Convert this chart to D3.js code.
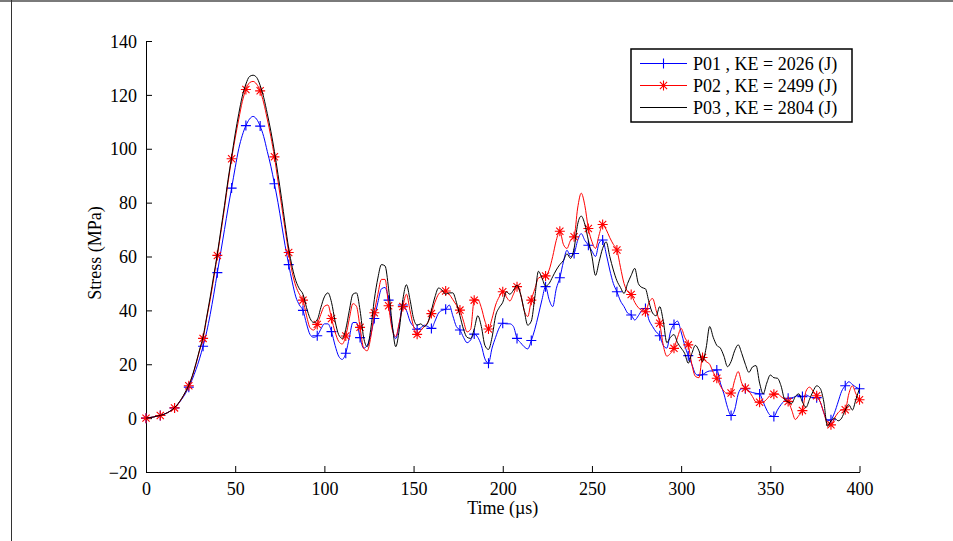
<!DOCTYPE html>
<html>
<head>
<meta charset="utf-8">
<script src="https://cdn.jsdelivr.net/npm/d3@7"></script>
<style>
  html, body { margin: 0; padding: 0; background: #fff; }
  svg text { font-family: "Liberation Serif", "Times New Roman", serif; fill: #000; }
</style>
</head>
<body>
<div id="chart"></div>
<script>
"use strict";

// sample step of the traces is 2 us, markers every 8 us
const timeStep = 2;
const markerEvery = 4;

const p01 = [
  0, 0.2, 0.4, 0.7, 1, 1.4, 2, 2.8, 3.8, 5.2,
  7, 9, 11.5, 14.5, 18, 22, 26.7, 32, 38.5, 46,
  54, 62, 70, 78, 85.4, 93, 100, 105, 108.6, 111,
  112, 111, 108.4, 104.5, 99, 93.5, 87, 80, 72, 64,
  57, 50.5, 45, 42, 40, 35, 31, 30, 30.6, 33,
  35, 35, 32.1, 27, 23, 21.8, 24.1, 30, 35.5, 35.5,
  29.9, 26, 27, 31, 37, 43, 48, 48.5, 43.8, 34,
  29.5, 35, 42, 40, 36, 34, 33, 33.5, 34.5, 34,
  33.3, 36, 39, 40, 40.4, 42, 38, 34, 32.7, 30,
  28, 29, 31.2, 30, 27, 22, 20.4, 26, 30, 33.5,
  35.2, 35, 35, 34, 29.6, 28, 26.5, 25.7, 28.8, 33,
  38.3, 44, 48.8, 44, 41.4, 48, 52.1, 58, 62.3, 60,
  61.1, 66, 68.5, 66, 64.2, 62, 60, 65, 66.1, 61,
  55, 50, 46.9, 43.5, 41.4, 39, 38.3, 36.4, 38, 40,
  40.7, 36.4, 34, 32, 30.6, 27, 26, 32, 34.8, 36,
  32, 27, 23.2, 20, 16.5, 15.8, 16.1, 17, 17.5, 17.5,
  17.9, 13, 9, 4, 1, 3, 9, 11, 10.9, 10,
  9.5, 9.2, 9, 6, 3, 1, 0.6, 3, 5, 6.5,
  7.4, 7.5, 8, 8.5, 8, 8.6, 8, 7.5, 7.6, 6,
  2, -1, -0.6, 2, 6, 10, 12, 13.5, 12.5, 11.5,
  10.9
];

const p02 = [
  0, 0.2, 0.4, 0.7, 1, 1.4, 2, 2.8, 3.8, 5.3,
  7.2, 9.5, 12, 15.5, 20, 25, 29.6, 37, 44, 52,
  60.4, 69, 78, 87.5, 96.3, 104, 111, 117.5, 122, 124.5,
  125, 124, 121.5, 117, 111, 104.5, 97, 88, 79, 70,
  61.5, 54, 49, 46, 43.8, 38, 33.5, 32.7, 34.8, 38.5,
  41.5, 42, 37, 32, 28.5, 27.5, 30.5, 37, 42.5, 41.5,
  33.7, 26, 25, 30, 39.1, 46, 51.5, 51.5, 41.7, 33,
  30.3, 35.5, 41.4, 46, 40, 34, 31.1, 32.5, 34, 35.5,
  38.8, 43, 46, 47, 47.2, 46, 44, 42, 40.1, 36,
  32, 33, 43.8, 44, 41, 36, 33.1, 37, 42, 45,
  46.9, 45, 43.5, 46, 48.8, 46, 40, 37.7, 43.8, 48,
  52, 52.5, 52.8, 55, 60, 66, 69.4, 64.5, 63, 66,
  67.3, 78, 83.5, 79, 70.4, 65.5, 63, 68, 71.9, 70,
  67, 64.5, 62.4, 56, 50, 47, 45.9, 43, 41, 40,
  39.5, 43, 44.4, 40, 35.2, 27, 23, 24, 25.9, 30,
  33.3, 30, 27.2, 20, 15.5, 15, 22.5, 21, 20, 17,
  14.8, 12, 10, 9, 9.3, 14, 17.3, 13, 11.1, 10,
  8, 6, 5.9, 6, 7, 8.5, 8.9, 9, 8, 7,
  6.2, 3, -0.5, 1, 2.8, 10, 11.5, 10, 8.3, 6,
  2, -2, -2.5, 0, 2, 3, 3.1, 9, 12, 9,
  6.8
];

const p03 = [
  0, 0.2, 0.4, 0.7, 1, 1.4, 2, 2.8, 3.9, 5.4,
  7.3, 9.6, 12.2, 15.8, 20.3, 25.3, 30.2, 37.5, 45, 53,
  61, 70, 79, 88.5, 97, 105.5, 113, 119.5, 124, 126.8,
  127.3, 126.5, 123.5, 119, 113, 106.5, 99, 90.5, 81.5, 72,
  63, 56, 51, 48, 46, 41, 37, 35.5, 36.5, 41,
  45, 46.5, 43, 36, 31, 29.6, 33, 40, 46, 46.5,
  40, 30, 26.5, 33, 44, 52, 57, 56.5, 48, 35,
  26.5, 33, 44, 49.5, 44, 37, 34.5, 35, 34, 35.5,
  40, 45, 48.3, 47.5, 46, 46.5, 46.5, 43, 38, 33,
  30, 29.6, 33, 38, 34, 27, 25.5, 30, 38, 41,
  43, 46.9, 46, 47.5, 49.4, 46, 40, 34.5, 36, 45,
  54.5, 52, 49, 50, 52.5, 55, 57, 58.5, 61, 59.3,
  63, 72, 75, 72, 66, 60, 53, 58, 63, 65.4,
  60, 55, 51, 48.5, 46.3, 50, 53, 55.6, 50, 48.5,
  48, 43, 39, 38, 41.4, 36, 28, 30, 31, 28,
  26, 24, 20.4, 24, 27, 25, 21, 26, 34, 30,
  27, 26, 23, 19.1, 21, 25, 27.2, 24, 20, 17,
  19, 19.5, 13, 9, 13, 16, 15, 14.8, 12, 7,
  6, 5.5, 8, 9, 6, 4, 7, 10, 12, 11,
  6, -3, -1, 0, -1, 0, 3, 5, 3, 7,
  11
];

const seriesNames = ['P01 , KE = 2026 (J)', 'P02 , KE = 2499 (J)', 'P03 , KE = 2804 (J)'];
const seriesColors = ['#0000ff', '#ff0000', '#000000'];
const seriesMarkers = ['plus', 'star', 'none'];

const xTicks = [0, 50, 100, 150, 200, 250, 300, 350, 400];
const yTicks = [-20, 0, 20, 40, 60, 80, 100, 120, 140];

const width = 953;
const height = 541;
const plot = { left: 146, right: 859.5, top: 41, bottom: 472 };

let svg = d3.select('#chart')
  .append('svg')
  .attr('width', width)
  .attr('height', height);

// window frame bits at top and left
svg.append('rect')
  .attr('x', 0).attr('y', 0)
  .attr('width', width).attr('height', 2)
  .attr('fill', '#7a7a7a');
svg.append('line')
  .attr('x1', 11.5).attr('x2', 11.5)
  .attr('y1', 0).attr('y2', height)
  .attr('stroke', '#333')
  .attr('stroke-width', 1);

let x = d3.scaleLinear()
  .domain([0, 400])
  .range([plot.left, plot.right]);

let y = d3.scaleLinear()
  .domain([-20, 140])
  .range([plot.bottom, plot.top]);

// axes with inward ticks
let xAxis = svg.append('g')
  .attr('transform', 'translate(0,' + plot.bottom + ')')
  .call(d3.axisBottom(x).tickValues(xTicks).tickSizeInner(-6).tickSizeOuter(0).tickPadding(10));

let yAxis = svg.append('g')
  .attr('transform', 'translate(' + plot.left + ',0)')
  .call(d3.axisLeft(y).tickValues(yTicks).tickSizeInner(-6).tickSizeOuter(0).tickPadding(9)
    .tickFormat(d => d < 0 ? '\u2212' + Math.abs(d) : d));

[xAxis, yAxis].forEach(g => {
  g.select('.domain').attr('stroke', '#000').attr('stroke-width', 1);
  g.selectAll('.tick line').attr('stroke', '#000');
  g.selectAll('.tick text')
    .style('font-family', '"Liberation Serif", "Times New Roman", serif')
    .style('font-size', '18px')
    .attr('fill', '#000');
});
xAxis.selectAll('.tick text').attr('dy', '0.71em');
yAxis.selectAll('.tick text').attr('dy', '0.34em');

svg.append('text')
  .attr('x', (plot.left + plot.right) / 2)
  .attr('y', 514)
  .attr('text-anchor', 'middle')
  .style('font-size', '18px')
  .text('Time (\u00b5s)');

svg.append('text')
  .attr('transform', 'translate(101,253) rotate(-90)')
  .attr('text-anchor', 'middle')
  .style('font-size', '18px')
  .text('Stress (MPa)');

function markerPath(kind, r) {
  if (kind === 'plus') {
    return 'M' + (-r) + ',0H' + r + 'M0,' + (-r) + 'V' + r;
  }
  if (kind === 'star') {
    let d = r * 0.72;
    return 'M' + (-r) + ',0H' + r + 'M0,' + (-r) + 'V' + r +
      'M' + (-d) + ',' + (-d) + 'L' + d + ',' + d +
      'M' + (-d) + ',' + d + 'L' + d + ',' + (-d);
  }
  return '';
}

let line = d3.line()
  .x(d => x(d.t))
  .y(d => y(d.v))
  .curve(d3.curveMonotoneX);

let plotArea = svg.append('g');

[p01, p02, p03].forEach((values, i) => {
  let data = values.map((v, k) => ({ t: k * timeStep, v: v }));
  let g = plotArea.append('g');

  g.append('path')
    .datum(data)
    .attr('fill', 'none')
    .attr('stroke', seriesColors[i])
    .attr('stroke-width', 1)
    .attr('d', line);

  if (seriesMarkers[i] !== 'none') {
    g.selectAll('path.marker')
      .data(data.filter((d, k) => k % markerEvery === 0))
      .enter()
      .append('path')
      .attr('class', 'marker')
      .attr('transform', d => 'translate(' + x(d.t) + ',' + y(d.v) + ')')
      .attr('d', markerPath(seriesMarkers[i], 5))
      .attr('fill', 'none')
      .attr('stroke', seriesColors[i])
      .attr('stroke-width', 1.1);
  }
});

// legend
let legend = svg.append('g');
legend.append('rect')
  .attr('x', 631).attr('y', 49)
  .attr('width', 221).attr('height', 73)
  .attr('fill', '#fff')
  .attr('stroke', '#000')
  .attr('stroke-width', 1.5);

seriesNames.forEach((name, i) => {
  let cy = 63.5 + i * 22;
  legend.append('line')
    .attr('x1', 640).attr('x2', 687)
    .attr('y1', cy).attr('y2', cy)
    .attr('stroke', seriesColors[i])
    .attr('stroke-width', 1);
  if (seriesMarkers[i] !== 'none') {
    legend.append('path')
      .attr('transform', 'translate(663.5,' + cy + ')')
      .attr('d', markerPath(seriesMarkers[i], 5))
      .attr('fill', 'none')
      .attr('stroke', seriesColors[i])
      .attr('stroke-width', 1.1);
  }
  legend.append('text')
    .attr('x', 693)
    .attr('y', cy)
    .attr('dy', '0.34em')
    .style('font-size', '18px')
    .text(name);
});
</script>
</body>
</html>
